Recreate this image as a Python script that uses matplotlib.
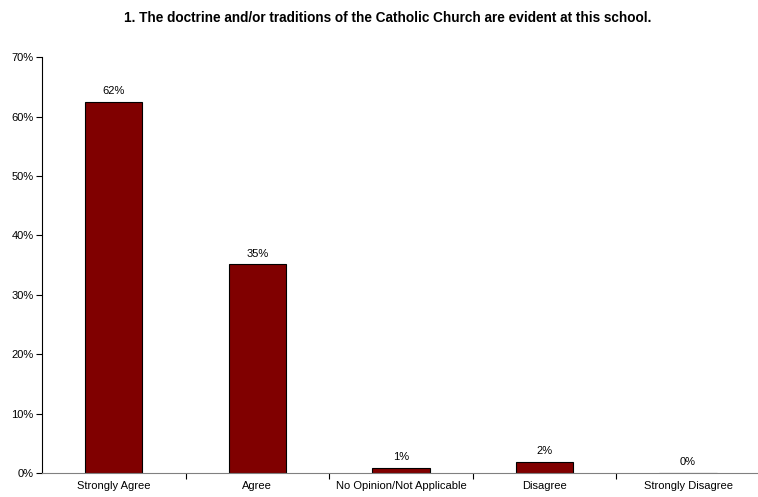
import numpy as np
import matplotlib.pyplot as plt
from matplotlib.ticker import FixedLocator, PercentFormatter

categories = ['Strongly Agree', 'Agree', 'No Opinion/Not Applicable', 'Disagree', 'Strongly Disagree']
values = [62.4, 35.1, 0.9, 1.8, 0.0]
labels = ['62%', '35%', '1%', '2%', '0%']
title = '1. The doctrine and/or traditions of the Catholic Church are evident at this school.'


def main():
    plt.rcParams['font.family'] = ['Liberation Sans', 'DejaVu Sans']
    fig = plt.figure(figsize=(7.58, 4.97), dpi=100)
    ax = fig.add_axes([0.0554, 0.0483, 0.947, 0.8367])

    x = np.arange(len(categories))
    ax.bar(x, values, width=0.4, color='#800000', edgecolor='black', linewidth=0.8)
    for xi, v, lab in zip(x, values, labels):
        ax.text(xi, v + 1.0, lab, ha='center', va='bottom', fontsize=8)

    ax.set_xlim(-0.5, len(categories) - 0.5)
    ax.set_ylim(0, 70)
    ax.set_yticks(np.arange(0, 71, 10))
    ax.yaxis.set_major_formatter(PercentFormatter(decimals=0))
    ax.set_xticks(x)
    ax.set_xticklabels(categories)
    ax.xaxis.set_minor_locator(FixedLocator(x[:-1] + 0.5))
    ax.tick_params(axis='x', which='major', length=0, pad=6, labelsize=8)
    ax.tick_params(axis='x', which='minor', length=4, width=0.8, direction='out')
    ax.tick_params(axis='y', length=4, width=0.8, labelsize=8, pad=2)

    for s in ['top', 'right']:
        ax.spines[s].set_visible(False)
    for s in ['left', 'bottom']:
        ax.spines[s].set_linewidth(0.8)
    ax.spines['bottom'].set_color('#808080')

    fig.text(0.512, 0.963, title, ha='center', va='center', fontsize=9.8, fontweight='bold')
    fig.savefig('out.png', dpi=100)


if __name__ == '__main__':
    main()
